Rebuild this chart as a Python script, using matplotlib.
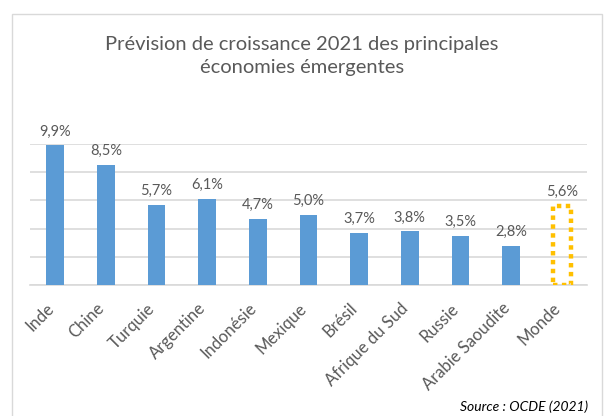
import matplotlib
matplotlib.use('Agg')
from matplotlib import pyplot as plt
from matplotlib.patches import Rectangle
from matplotlib.transforms import ScaledTranslation

pays = ['Inde', 'Chine', 'Turquie', 'Argentine', 'Indonésie', 'Mexique',
        'Brésil', 'Afrique du Sud', 'Russie', 'Arabie Saoudite', 'Monde']
croissance = [9.9, 8.5, 5.7, 6.1, 4.7, 5.0, 3.7, 3.8, 3.5, 2.8, 5.6]
titre = 'Prévision de croissance 2021 des principales\néconomies émergentes'
source = 'Source : OCDE (2021)'

plt.rcParams['font.family'] = ['Lato', 'DejaVu Sans']
gris = '#595959'
bleu = '#5B9BD5'
jaune = '#FFC000'

W, H = 607, 416
fig = plt.figure(figsize=(W / 100, H / 100), dpi=100)

# cadre du graphique
fig.patches.append(Rectangle((12 / W, -0.05), 590 / W, 1.05 - 14 / H,
                             transform=fig.transFigure, fill=False,
                             edgecolor='#D9D9D9', linewidth=1))

ax = fig.add_axes([30 / W, 1 - 285 / H, 557 / W, 141 / H])
x = list(range(len(pays)))
largeur = 0.35

ax.bar(x[:-1], croissance[:-1], width=largeur, color=bleu, zorder=3)
ax.bar(x[-1:], croissance[-1:], width=largeur, facecolor='none',
       edgecolor=jaune, linewidth=3.2, linestyle=(0, (1, 1)), zorder=3)

for xi, v in zip(x, croissance):
    ax.annotate(f'{v:.1f}%'.replace('.', ','), (xi, v), xytext=(0, 5),
                textcoords='offset points', ha='center', va='bottom',
                fontsize=10.5, color=gris)

ax.set_xlim(-0.5, len(pays) - 0.5)
ax.set_ylim(0, 10)
ax.set_yticks([0, 2, 4, 6, 8, 10])
ax.yaxis.grid(True, color='#D9D9D9', linewidth=1.2, zorder=0)
ax.tick_params(axis='y', left=False, labelleft=False)
ax.tick_params(axis='x', length=0, pad=15)
ax.set_xticks(x)
ax.set_xticklabels(pays, rotation=45, ha='right', va='center',
                   rotation_mode='anchor', fontsize=12, color=gris)
decal = ScaledTranslation(-4 / 100, 0, fig.dpi_scale_trans)
for lab in ax.get_xticklabels():
    lab.set_transform(lab.get_transform() + decal)
for s in ['top', 'right', 'left']:
    ax.spines[s].set_visible(False)
ax.spines['bottom'].set_color('#D9D9D9')
ax.spines['bottom'].set_linewidth(1.2)

fig.text(302 / W, 1 - 56 / H, titre, ha='center', va='center',
         fontsize=14.5, color=gris, linespacing=1.45)
fig.text(588 / W, 1 - 407 / H, source, ha='right', va='center',
         fontsize=10, style='italic', color='black')

fig.savefig('out.png', dpi=100)
